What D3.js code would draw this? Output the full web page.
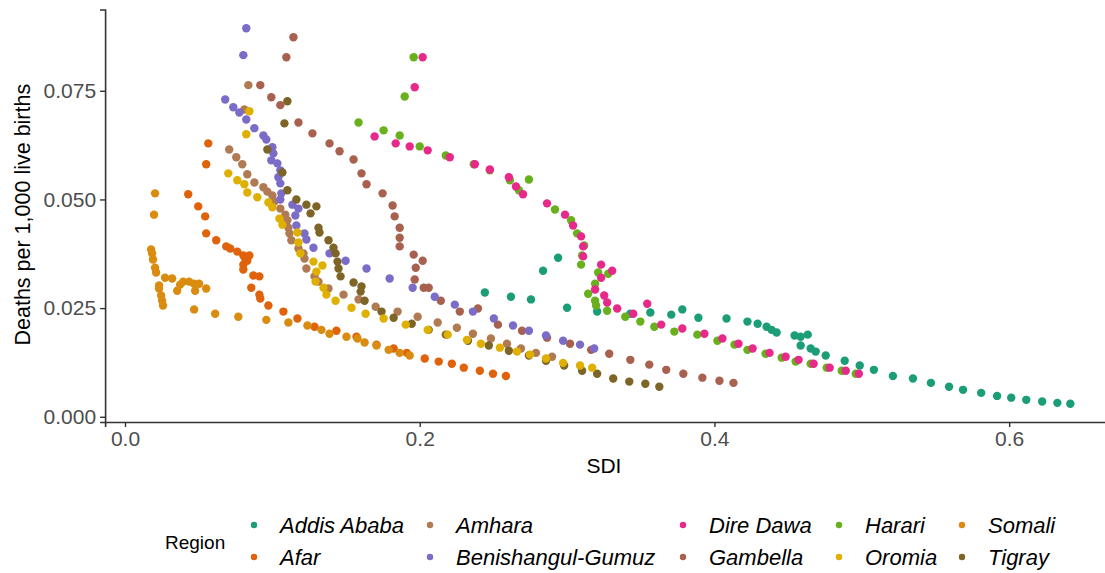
<!DOCTYPE html>
<html>
<head>
<meta charset="utf-8">
<script src="https://cdn.jsdelivr.net/npm/d3@7"></script>
<style>
  body { margin: 0; background: #fff; }
  svg { font-family: "Liberation Sans", Arial, sans-serif; }
  .tick text { fill: #4d4d4d; }
</style>
</head>
<body>
<svg id="chart" width="1105" height="573"></svg>
<script>
// [SDI, deaths per 1,000 live births]
const addisAbaba = [[0.2442,0.0286],[0.2619,0.0276],[0.2755,0.0270],[0.2837,0.0336],[0.2939,0.0366],[0.3000,0.0251],[0.3204,0.0242],[0.3429,0.0237],[0.3565,0.0240],[0.3707,0.0235],[0.3782,0.0247],[0.3891,0.0228],[0.4082,0.0226],[0.4224,0.0219],[0.4293,0.0214],[0.4354,0.0207],[0.4388,0.0200],[0.4422,0.0194],[0.4544,0.0187],[0.4585,0.0184],[0.4633,0.0189],[0.4585,0.0164],[0.4653,0.0157],[0.4687,0.0150],[0.4755,0.0141],[0.4884,0.0129],[0.4986,0.0118],[0.5082,0.0108],[0.5211,0.0094],[0.5347,0.0088],[0.5469,0.0078],[0.5592,0.0069],[0.5687,0.0062],[0.5810,0.0055],[0.5918,0.0048],[0.6014,0.0044],[0.6116,0.0039],[0.6224,0.0035],[0.6327,0.0032],[0.6415,0.0030]];
const afar = [[0.0565,0.0629],[0.0551,0.0581],[0.0429,0.0512],[0.0497,0.0484],[0.0544,0.0461],[0.0551,0.0422],[0.0619,0.0406],[0.0687,0.0392],[0.0714,0.0387],[0.0762,0.0380],[0.0803,0.0371],[0.0844,0.0371],[0.0816,0.0364],[0.0830,0.0359],[0.0803,0.0350],[0.0803,0.0339],[0.0871,0.0325],[0.0912,0.0323],[0.0857,0.0297],[0.0912,0.0281],[0.0918,0.0272],[0.0973,0.0256],[0.1075,0.0242],[0.1170,0.0226],[0.1286,0.0207],[0.1435,0.0198],[0.1571,0.0184],[0.1707,0.0166],[0.1823,0.0157],[0.1912,0.0147],[0.2034,0.0134],[0.2129,0.0127],[0.2218,0.0122],[0.2299,0.0113],[0.2408,0.0106],[0.2497,0.0099],[0.2585,0.0094]];
const amhara = [[0.0837,0.0763],[0.0810,0.0707],[0.0707,0.0615],[0.0755,0.0597],[0.0796,0.0581],[0.0830,0.0558],[0.0878,0.0539],[0.0939,0.0528],[0.0966,0.0518],[0.1000,0.0509],[0.1014,0.0495],[0.1054,0.0479],[0.1088,0.0465],[0.1102,0.0452],[0.1109,0.0435],[0.1116,0.0422],[0.1129,0.0406],[0.1177,0.0387],[0.1211,0.0376],[0.1218,0.0364],[0.1231,0.0341],[0.1286,0.0323],[0.1313,0.0311],[0.1381,0.0295],[0.1483,0.0281],[0.1585,0.0270],[0.1701,0.0253],[0.1850,0.0242],[0.1986,0.0230],[0.2122,0.0217],[0.2252,0.0205],[0.2361,0.0191],[0.2483,0.0180],[0.2592,0.0168],[0.2687,0.0157],[0.2789,0.0147],[0.2898,0.0138]];
const benishangulGumuz = [[0.0823,0.0894],[0.0803,0.0832],[0.0680,0.0730],[0.0735,0.0712],[0.0776,0.0700],[0.0823,0.0684],[0.0878,0.0664],[0.0939,0.0647],[0.0959,0.0638],[0.1000,0.0620],[0.1007,0.0606],[0.0993,0.0590],[0.1034,0.0583],[0.1054,0.0567],[0.1041,0.0551],[0.1054,0.0537],[0.1061,0.0514],[0.1054,0.0500],[0.1136,0.0488],[0.1177,0.0479],[0.1156,0.0463],[0.1163,0.0440],[0.1218,0.0422],[0.1231,0.0408],[0.1279,0.0389],[0.1388,0.0376],[0.1497,0.0359],[0.1639,0.0341],[0.1796,0.0318],[0.1952,0.0297],[0.2102,0.0276],[0.2238,0.0258],[0.2361,0.0242],[0.2503,0.0226],[0.2633,0.0210],[0.2741,0.0198],[0.2857,0.0187],[0.2973,0.0175],[0.3088,0.0166],[0.3184,0.0157]];
const direDawa = [[0.2020,0.0827],[0.1966,0.0758],[0.1694,0.0645],[0.1837,0.0629],[0.1932,0.0622],[0.2054,0.0613],[0.2204,0.0597],[0.2374,0.0581],[0.2476,0.0569],[0.2605,0.0551],[0.2653,0.0530],[0.2701,0.0512],[0.2864,0.0491],[0.2986,0.0465],[0.3041,0.0440],[0.3095,0.0415],[0.3109,0.0392],[0.3109,0.0369],[0.3231,0.0350],[0.3306,0.0336],[0.3231,0.0320],[0.3190,0.0293],[0.3252,0.0279],[0.3272,0.0263],[0.3340,0.0249],[0.3449,0.0237],[0.3544,0.0260],[0.3639,0.0212],[0.3782,0.0203],[0.3932,0.0191],[0.4054,0.0180],[0.4163,0.0168],[0.4259,0.0157],[0.4374,0.0147],[0.4483,0.0138],[0.4571,0.0131],[0.4673,0.0122],[0.4782,0.0113],[0.4891,0.0106],[0.4980,0.0099]];
const gambella = [[0.1143,0.0873],[0.1095,0.0827],[0.0918,0.0763],[0.0993,0.0735],[0.1054,0.0717],[0.1177,0.0677],[0.1272,0.0652],[0.1388,0.0629],[0.1456,0.0611],[0.1551,0.0592],[0.1605,0.0560],[0.1639,0.0535],[0.1748,0.0514],[0.1816,0.0486],[0.1830,0.0461],[0.1864,0.0435],[0.1864,0.0412],[0.1864,0.0392],[0.1959,0.0373],[0.2020,0.0359],[0.1973,0.0343],[0.1966,0.0316],[0.2027,0.0297],[0.2061,0.0297],[0.2143,0.0267],[0.2272,0.0242],[0.2395,0.0249],[0.2531,0.0212],[0.2694,0.0198],[0.2864,0.0182],[0.3020,0.0168],[0.3163,0.0154],[0.3286,0.0145],[0.3429,0.0131],[0.3558,0.0120],[0.3673,0.0108],[0.3789,0.0099],[0.3918,0.0090],[0.4034,0.0083],[0.4129,0.0078]];
const harari = [[0.1959,0.0827],[0.1898,0.0737],[0.1585,0.0677],[0.1755,0.0659],[0.1864,0.0647],[0.2000,0.0622],[0.2177,0.0601],[0.2367,0.0581],[0.2476,0.0567],[0.2612,0.0544],[0.2673,0.0521],[0.2741,0.0546],[0.2918,0.0477],[0.3027,0.0452],[0.3068,0.0422],[0.3116,0.0394],[0.3102,0.0371],[0.3095,0.0350],[0.3211,0.0332],[0.3279,0.0329],[0.3190,0.0306],[0.3143,0.0283],[0.3190,0.0267],[0.3197,0.0256],[0.3272,0.0244],[0.3395,0.0230],[0.3497,0.0219],[0.3592,0.0207],[0.3728,0.0196],[0.3884,0.0189],[0.4020,0.0175],[0.4136,0.0166],[0.4224,0.0154],[0.4347,0.0145],[0.4456,0.0136],[0.4551,0.0127],[0.4653,0.0122],[0.4762,0.0113],[0.4864,0.0106],[0.4959,0.0099]];
const oromia = [[0.0844,0.0703],[0.0823,0.0650],[0.0701,0.0560],[0.0762,0.0544],[0.0810,0.0535],[0.0830,0.0516],[0.0898,0.0505],[0.0973,0.0493],[0.1000,0.0482],[0.1048,0.0456],[0.1068,0.0442],[0.1170,0.0424],[0.1177,0.0401],[0.1190,0.0376],[0.1279,0.0357],[0.1340,0.0348],[0.1299,0.0334],[0.1293,0.0311],[0.1347,0.0297],[0.1367,0.0281],[0.1429,0.0267],[0.1537,0.0251],[0.1633,0.0237],[0.1755,0.0226],[0.1905,0.0212],[0.2054,0.0200],[0.2190,0.0189],[0.2320,0.0177],[0.2415,0.0168],[0.2544,0.0159],[0.2660,0.0150],[0.2748,0.0143],[0.2857,0.0134],[0.2973,0.0124],[0.3088,0.0118],[0.3170,0.0113]];
const somali = [[0.0204,0.0514],[0.0197,0.0465],[0.0177,0.0385],[0.0184,0.0376],[0.0190,0.0362],[0.0204,0.0343],[0.0211,0.0332],[0.0272,0.0320],[0.0320,0.0318],[0.0231,0.0302],[0.0231,0.0295],[0.0245,0.0279],[0.0252,0.0267],[0.0258,0.0256],[0.0354,0.0290],[0.0374,0.0304],[0.0395,0.0311],[0.0435,0.0311],[0.0469,0.0306],[0.0503,0.0306],[0.0476,0.0290],[0.0551,0.0295],[0.0469,0.0247],[0.0612,0.0237],[0.0769,0.0230],[0.0959,0.0223],[0.1109,0.0217],[0.1238,0.0210],[0.1333,0.0200],[0.1388,0.0191],[0.1503,0.0184],[0.1578,0.0180],[0.1626,0.0171],[0.1707,0.0164],[0.1789,0.0154],[0.1864,0.0147],[0.1932,0.0141]];
const tigray = [[0.1102,0.0726],[0.1082,0.0675],[0.0966,0.0615],[0.1068,0.0562],[0.1102,0.0521],[0.1163,0.0500],[0.1231,0.0488],[0.1299,0.0484],[0.1259,0.0468],[0.1313,0.0435],[0.1320,0.0424],[0.1381,0.0406],[0.1415,0.0389],[0.1429,0.0376],[0.1442,0.0357],[0.1449,0.0341],[0.1463,0.0323],[0.1551,0.0309],[0.1605,0.0300],[0.1599,0.0288],[0.1626,0.0267],[0.1741,0.0242],[0.1823,0.0228],[0.1946,0.0214],[0.2061,0.0200],[0.2177,0.0189],[0.2327,0.0175],[0.2469,0.0164],[0.2605,0.0152],[0.2741,0.0141],[0.2857,0.0129],[0.2980,0.0118],[0.3102,0.0106],[0.3204,0.0099],[0.3313,0.0088],[0.3422,0.0081],[0.3531,0.0076],[0.3626,0.0069]];

const regions = ["Addis Ababa", "Afar", "Amhara", "Benishangul-Gumuz", "Dire Dawa", "Gambella", "Harari", "Oromia", "Somali", "Tigray"];
const regionColors = ["#1b9e77", "#e0620a", "#b07a52", "#7b6cc8", "#e7298a", "#a8614f", "#68b01c", "#e0b000", "#d98c10", "#7d6528"];
const xTicks = [0, 0.2, 0.4, 0.6];
const yTicks = [0, 0.025, 0.05, 0.075];

const series = {
    "Addis Ababa": addisAbaba, "Afar": afar, "Amhara": amhara, "Benishangul-Gumuz": benishangulGumuz,
    "Dire Dawa": direDawa, "Gambella": gambella, "Harari": harari, "Oromia": oromia,
    "Somali": somali, "Tigray": tigray
};
// draw order (later = on top)
const drawOrder = ["Addis Ababa", "Afar", "Somali", "Amhara", "Gambella", "Benishangul-Gumuz", "Tigray", "Oromia", "Harari", "Dire Dawa"];

const svg = d3.select("#chart");
const color = d3.scaleOrdinal().domain(regions).range(regionColors);

// scales: 0 -> 125px, 0.6 -> 1009px ; 0 -> 417px, 0.075 -> 90px
const x = d3.scaleLinear().domain([-0.0135, 0.6727]).range([105.1, 1116.3]);
const y = d3.scaleLinear().domain([-0.0012, 0.0937]).range([422, 9.5]);

const points = [];
drawOrder.forEach(r => series[r].forEach(d => points.push({ region: r, sdi: d[0], rate: d[1] })));

svg.append("g")
    .selectAll("circle")
    .data(points)
    .join("circle")
    .attr("cx", d => x(d.sdi))
    .attr("cy", d => y(d.rate))
    .attr("r", 4.2)
    .attr("fill", d => color(d.region));

// axes
const xAxis = svg.append("g")
    .attr("transform", `translate(0,${y.range()[0]})`)
    .call(d3.axisBottom(x).tickValues(xTicks).tickFormat(d3.format(".1f")).tickSizeOuter(0).tickSize(5).tickPadding(4));
const yAxis = svg.append("g")
    .attr("transform", `translate(${x.range()[0]},0)`)
    .call(d3.axisLeft(y).tickValues(yTicks).tickFormat(d3.format(".3f")).tickSizeOuter(0).tickSize(5).tickPadding(4));
[xAxis, yAxis].forEach(g => {
    g.select(".domain").attr("stroke", "#333").attr("stroke-width", 1.6);
    g.selectAll(".tick line").attr("stroke", "#333").attr("stroke-width", 1.4);
    g.selectAll(".tick text").attr("font-size", 21).attr("font-family", "Liberation Sans, Arial, sans-serif");
});

// axis titles
svg.append("text")
    .attr("x", x(0.325)).attr("y", 473)
    .attr("text-anchor", "middle")
    .attr("font-size", 21)
    .text("SDI");
svg.append("text")
    .attr("transform", `translate(30,${y(0.0465)}) rotate(-90)`)
    .attr("text-anchor", "middle")
    .attr("font-size", 21.5)
    .text("Deaths per 1,000 live births");

// legend
const legendCols = [280, 456, 709, 865, 988]; // text x of each column
const legendRows = [525, 557];
svg.append("text")
    .attr("x", 165).attr("y", 542).attr("dy", "0.35em")
    .attr("font-size", 19)
    .text("Region");
const legend = svg.append("g")
    .selectAll("g")
    .data(regions)
    .join("g")
    .attr("transform", (d, i) => `translate(${legendCols[Math.floor(i / 2)]},${legendRows[i % 2]})`);
legend.append("circle")
    .attr("cx", -26).attr("cy", 0).attr("r", 3.2)
    .attr("fill", d => color(d));
legend.append("text")
    .attr("x", 0).attr("dy", "0.35em")
    .attr("font-size", 22)
    .attr("font-style", "italic")
    .text(d => d);
</script>
</body>
</html>
